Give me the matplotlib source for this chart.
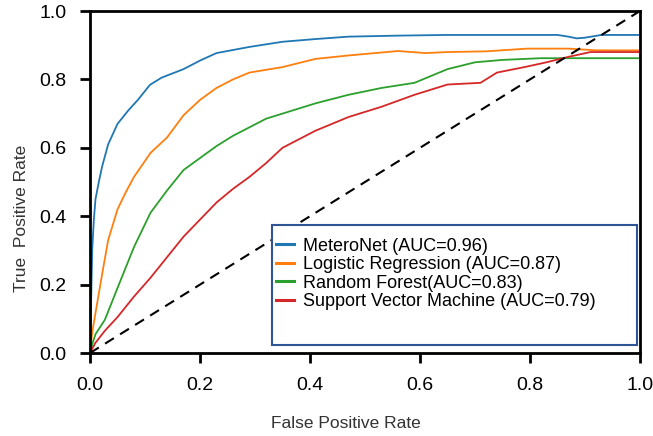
import matplotlib.pyplot as plt
from matplotlib.patches import Rectangle

plt.rcParams['font.family'] = ['Liberation Sans', 'DejaVu Sans']

# ROC points (fpr, tpr)
net_fpr = [0.0, 0.002, 0.004, 0.007, 0.01, 0.016, 0.022, 0.033, 0.05, 0.07, 0.087, 0.109, 0.13, 0.17, 0.2, 0.23, 0.29, 0.35, 0.41, 0.47, 0.56, 0.65, 0.75, 0.85, 0.87, 0.885, 0.9, 0.93, 1.0]
net_tpr = [0.0, 0.15, 0.3, 0.39, 0.45, 0.5, 0.545, 0.61, 0.67, 0.71, 0.74, 0.784, 0.805, 0.83, 0.855, 0.877, 0.895, 0.91, 0.918, 0.925, 0.928, 0.93, 0.93, 0.93, 0.925, 0.92, 0.922, 0.93, 0.93]

lr_fpr = [0.0, 0.004, 0.01, 0.022, 0.033, 0.05, 0.065, 0.08, 0.11, 0.14, 0.17, 0.2, 0.23, 0.26, 0.29, 0.35, 0.41, 0.47, 0.56, 0.61, 0.65, 0.72, 0.795, 0.87, 0.92, 1.0]
lr_tpr = [0.0, 0.06, 0.117, 0.23, 0.33, 0.42, 0.47, 0.515, 0.585, 0.63, 0.695, 0.74, 0.775, 0.8, 0.82, 0.836, 0.86, 0.87, 0.883, 0.877, 0.88, 0.882, 0.89, 0.89, 0.885, 0.885]

rf_fpr = [0.0, 0.005, 0.01, 0.027, 0.05, 0.08, 0.11, 0.14, 0.17, 0.2, 0.23, 0.26, 0.29, 0.32, 0.35, 0.41, 0.47, 0.53, 0.59, 0.65, 0.7, 0.75, 0.82, 0.9, 1.0]
rf_tpr = [0.0, 0.03, 0.055, 0.097, 0.19, 0.31, 0.41, 0.475, 0.535, 0.57, 0.605, 0.635, 0.66, 0.685, 0.7, 0.73, 0.755, 0.775, 0.79, 0.83, 0.85, 0.857, 0.862, 0.862, 0.862]

svm_fpr = [0.0, 0.01, 0.027, 0.05, 0.08, 0.11, 0.14, 0.17, 0.2, 0.23, 0.26, 0.29, 0.32, 0.35, 0.41, 0.47, 0.53, 0.59, 0.65, 0.71, 0.74, 0.79, 0.83, 0.87, 0.91, 0.95, 1.0]
svm_tpr = [0.0, 0.03, 0.065, 0.105, 0.165, 0.22, 0.28, 0.34, 0.39, 0.44, 0.48, 0.515, 0.555, 0.6, 0.65, 0.69, 0.72, 0.755, 0.785, 0.79, 0.82, 0.836, 0.85, 0.866, 0.88, 0.88, 0.88]

labels = ['MeteroNet (AUC=0.96)', 'Logistic Regression (AUC=0.87)',
          'Random Forest(AUC=0.83)', 'Support Vector Machine (AUC=0.79)']
colors = ['#1f77b4', '#ff7f0e', '#2ca02c', '#d62728']

fig = plt.figure(figsize=(6.53, 4.36), dpi=100)
ax = fig.add_axes([90 / 653, 1 - 353 / 436, 550 / 653, 342 / 436])

curves = [(net_fpr, net_tpr), (lr_fpr, lr_tpr), (rf_fpr, rf_tpr), (svm_fpr, svm_tpr)]
for (fx, ty), lab, c in zip(curves, labels, colors):
    ax.plot(fx, ty, color=c, lw=1.3, label=lab)

ax.plot([0, 1], [0, 1], color='black', lw=1.5, ls=(0, (5, 3.5)))

ax.set_xlim(0, 1)
ax.set_ylim(0, 1)
ax.set_xticks([0, 0.2, 0.4, 0.6, 0.8, 1.0])
ax.set_yticks([0, 0.2, 0.4, 0.6, 0.8, 1.0])
ax.tick_params(width=2, length=7, labelsize=14, pad=10)
for s in ax.spines.values():
    s.set_linewidth(2)

ax.set_xlabel('False Positive Rate', fontsize=12.5, color='#333333')
ax.set_ylabel('True  Positive Rate', fontsize=12.5, color='#333333')
ax.xaxis.set_label_coords(0.465, -0.185)
ax.yaxis.set_label_coords(-0.11, 0.395)

# legend box with extra empty space at the bottom
ax.add_patch(Rectangle((0.33, 0.023), 0.665, 0.35, transform=ax.transAxes,
                       fill=True, facecolor='white', edgecolor='#2f5597', lw=1.5, zorder=3))
leg = ax.legend(loc='upper left', bbox_to_anchor=(0.325, 0.358), frameon=False,
                fontsize=13, handlelength=1.0, handletextpad=0.5, labelspacing=0.08,
                borderaxespad=0)
for h in leg.get_lines():
    h.set_linewidth(2.2)
leg.set_zorder(4)

plt.savefig('out.png')
